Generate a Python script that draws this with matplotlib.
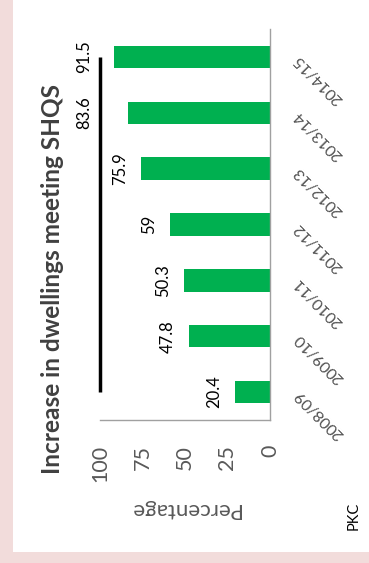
import matplotlib
matplotlib.use('Agg')
import matplotlib.pyplot as plt
import numpy as np
from matplotlib.patches import Rectangle

# ---- data ----
categories = ['2008/09', '2009/10', '2010/11', '2011/12', '2012/13', '2013/14', '2014/15']
values = [20.4, 47.8, 50.3, 59, 75.9, 83.6, 91.5]
target = [100, 100, 100, 100, 100, 100, 100]
value_ticks = [0, 25, 50, 75, 100]
value_tick_labels = ['0', '25', '50', '75', '100']
title = 'Increase in dwellings meeting SHQS'
xlabel = 'Percentage'
source = 'PKC'

plt.rcParams['font.family'] = ['Lato', 'DejaVu Sans']

W, H = 369, 563
fig = plt.figure(figsize=(W / 100, H / 100), dpi=100)
fig.patch.set_facecolor('#f2dcdb')
fig.patches.append(Rectangle((13 / W, 11 / H), 356 / W, 552 / H,
                             transform=fig.transFigure, facecolor='white',
                             edgecolor='none', zorder=-5))

ax = fig.add_axes([100 / W, 143 / H, 170 / W, 391 / H])
ax.set_zorder(5)
ax.set_facecolor('none')
pos = np.arange(len(categories))
vals = np.array(values)

ax.barh(pos, vals, height=0.4, color='#00b050', zorder=2)
ax.plot(target, pos, color='black', lw=2.5, solid_capstyle='butt',
        clip_on=False, zorder=3)

ax.set_xlim(100, 0)
ax.set_ylim(-0.5, len(categories) - 0.5)

# value labels
lab_x = np.where(vals > 80, 104.5, vals + 7.6)
for y, v, lx in zip(pos, vals, lab_x):
    ax.text(lx, y, f'{v:g}', rotation=90, ha='right', va='center',
            fontsize=12, color='black', clip_on=False)

# spines
for s in ['top', 'left']:
    ax.spines[s].set_visible(False)
for s in ['right', 'bottom']:
    ax.spines[s].set_color('#a0a0a0')
    ax.spines[s].set_linewidth(1.0)

ax.set_xticks(value_ticks)
ax.set_xticklabels(value_tick_labels, rotation=90, va='top', ha='center',
                   fontsize=15.5, color='#595959')
ax.tick_params(axis='x', length=0, pad=18)

ax.yaxis.tick_right()
ax.set_yticks(pos)
ax.set_yticklabels(categories, fontsize=11.5, color='#505050')
ax.tick_params(axis='y', length=0, pad=19)
for t in ax.get_yticklabels():
    t.set_rotation(135)
    t.set_rotation_mode('anchor')
    t.set_ha('right')
    t.set_va('center')

fig.text(185 / W, 1 - 509 / H, xlabel, rotation=180, ha='center', va='center',
         fontsize=16, color='#595959')
fig.text(53 / W, 1 - 279 / H, title, rotation=90, ha='center', va='center',
         fontsize=17.6, fontweight='bold', color='#404040')
fig.text(354 / W, 1 - 516 / H, source, rotation=90, ha='center', va='center',
         fontsize=10.5, color='black')

fig.savefig('out.png', dpi=100, facecolor=fig.get_facecolor())
